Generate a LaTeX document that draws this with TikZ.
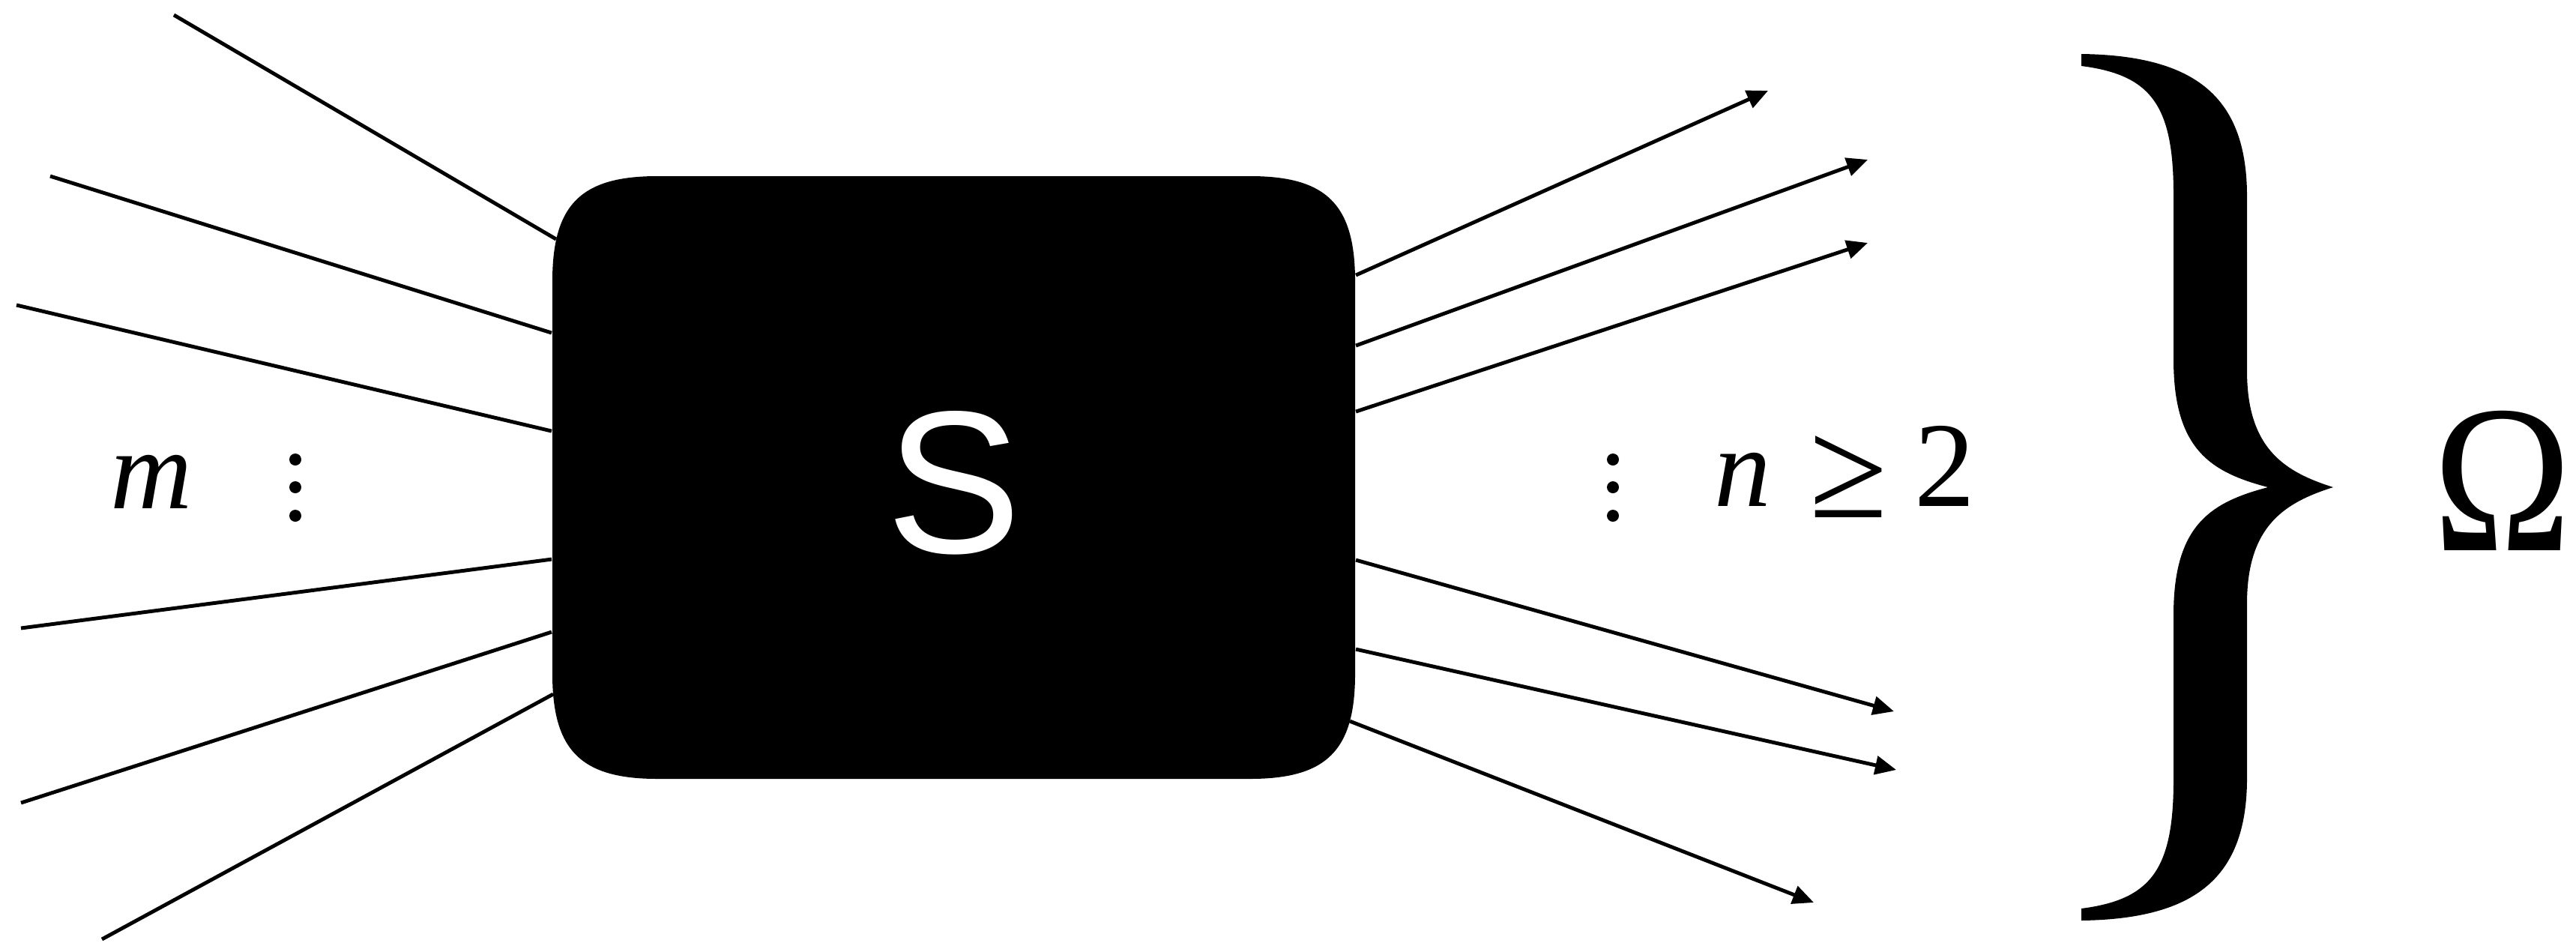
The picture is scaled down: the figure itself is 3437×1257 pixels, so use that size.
\documentclass[tikz,border=0pt]{standalone}
\usepackage{fontspec}
\setmainfont{Liberation Serif}
\newfontfamily\boxfont{Liberation Sans}
\usetikzlibrary{arrows.meta,calc}

\begin{document}
\begin{tikzpicture}[x=0.01cm,y=-0.01cm,
  wire/.style={line width=1.4pt},
  outarrow/.style={wire,-{Triangle[length=8pt,width=7pt]}},
  lbl/.style={inner sep=0pt,font=\fontsize{43}{50}\selectfont},
  dot/.style={fill=black}]
\useasboundingbox (0,0) rectangle (3437,1257);

% the box: a named node, filled with a smooth-cornered outline
\node[minimum width=10.71cm, minimum height=8.04cm, inner sep=0pt] (box) at (1272.5,637) {};
\fill (737,375) -- (737,899) .. controls (737,1001) and (775,1039) .. (877,1039)
  -- (1668,1039) .. controls (1770,1039) and (1808,1001) .. (1808,899)
  -- (1808,375) .. controls (1808,273) and (1770,235) .. (1668,235)
  -- (877,235) .. controls (775,235) and (737,273) .. (737,375) -- cycle;
\node[anchor=base, inner sep=0pt, text=white,
      font=\boxfont\fontsize{77}{90}\selectfont] (lab) at (1273,737) {S};

% free ends of the incoming lines
\coordinate (i1) at (232,20);
\coordinate (i2) at (67,235);
\coordinate (i3) at (22,407);
\coordinate (i4) at (28,838);
\coordinate (i5) at (28,1071);
\coordinate (i6) at (136,1253);

% tips of the outgoing arrows
\coordinate (o1) at (2359,121);
\coordinate (o2) at (2492,213);
\coordinate (o3) at (2492,324);
\coordinate (o4) at (2527,949);
\coordinate (o5) at (2530,1027);
\coordinate (o6) at (2420,1204);

% incoming lines
\draw[wire] (i1) -- ($(box.north west)+(6,85)$);
\draw[wire] (i2) -- ($(box.north west)+(0,210)$);
\draw[wire] (i3) -- ($(box.north west)+(0,341)$);
\draw[wire] (i4) -- ($(box.north west)+(0,512)$);
\draw[wire] (i5) -- ($(box.north west)+(0,609)$);
\draw[wire] (i6) -- ($(box.north west)+(2,692)$);

% outgoing arrows
\draw[outarrow] ($(box.north east)+(0,133)$) -- (o1);
\draw[outarrow] ($(box.north east)+(0,227)$) -- (o2);
\draw[outarrow] ($(box.north east)+(0,315)$) -- (o3);
\draw[outarrow] ($(box.north east)+(0,513)$) -- (o4);
\draw[outarrow] ($(box.north east)+(0,632)$) -- (o5);
\draw[outarrow] ($(box.north east)+(-8,728)$) -- (o6);

% vertical ellipses
\foreach \y in {613,650,688} {
  \fill[dot] (394,\y) circle (8);
  \fill[dot] (2152,\y) circle (8);
}

% labels
\node[lbl, anchor=base west] (m) at (147,678) {\itshape m};
\node[lbl, anchor=base west] (n) at (2287,675)
  {\itshape n\upshape\kern14.5pt\raisebox{-4.3pt}{\fontsize{54}{60}\selectfont ≥}\kern10.3pt{\fontsize{46}{50}\selectfont 2}};

% large right brace
\fill (2777,72) .. controls (2930,74) and (2998,130) .. (2998,262)
  -- (2998,495) .. controls (2998,600) and (3050,630) .. (3113,650)
  .. controls (3050,670) and (2998,700) .. (2998,805)
  -- (2998,1038) .. controls (2998,1170) and (2930,1226) .. (2777,1228)
  -- (2777,1212) .. controls (2870,1200) and (2900,1160) .. (2900,1040)
  -- (2900,820) .. controls (2900,700) and (2950,670) .. (3026,650)
  .. controls (2950,630) and (2900,600) .. (2900,480)
  -- (2900,260) .. controls (2900,140) and (2870,100) .. (2777,88) -- cycle;

\node[anchor=base west, inner sep=0pt, xscale=0.885, transform shape,
      font=\fontsize{80}{90}\selectfont] (omega) at (3246,734) {Ω};
\end{tikzpicture}
\end{document}
